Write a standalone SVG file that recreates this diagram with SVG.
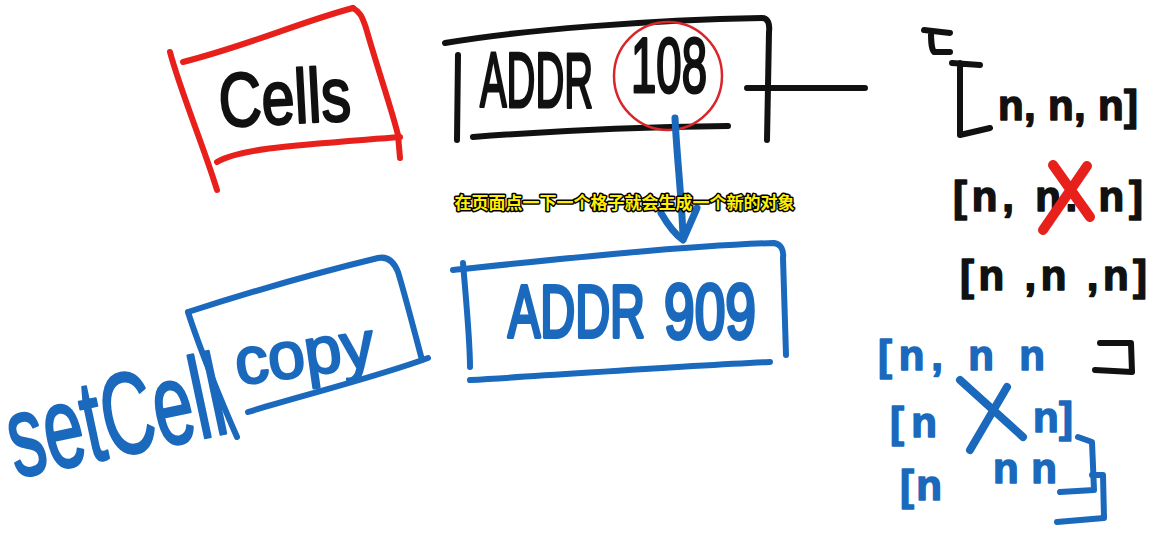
<svg xmlns="http://www.w3.org/2000/svg" width="1155" height="536" viewBox="0 0 1155 536">
<style>
.ink{fill:none;stroke-linecap:round;stroke-linejoin:round}
.r{stroke:#e8201c}
.k{stroke:#111}
.b{stroke:#1a69bd}
.hw{font-family:"Liberation Sans",Arial,sans-serif;stroke-linejoin:round;stroke-linecap:round}
.hk{fill:#111;stroke:#111}
.hb{fill:#1a69bd;stroke:#1a69bd}
.sub{font-family:"Noto Sans CJK SC",sans-serif;font-weight:bold;font-size:17px;fill:#ffef00;stroke:#000;stroke-width:3;paint-order:stroke;stroke-linejoin:round}
</style>
<rect width="1155" height="536" fill="#fff"/>

<g id="cells">
  <g class="ink r" stroke-width="6">
    <path d="M170,52 C180,90 205,150 217,190"/>
    <path d="M183,62 C250,45 300,22 353,8"/>
    <path d="M353,8 C360,12 362,16 366,28 C378,70 392,110 398,135 L400,158"/>
    <path d="M217,162 C240,148 300,145 400,137"/>
  </g>
  <text class="hw hk" x="220" y="127" font-size="76" stroke-width="2.5" textLength="132" lengthAdjust="spacingAndGlyphs" transform="rotate(-3 220 127)">Cells</text>
</g>

<g id="addr108">
  <g class="ink k" stroke-width="6">
    <path d="M445,43 C520,30 650,20 762,18 C768,18 770,24 769,32 L767,140"/>
    <path d="M458,55 L457,140"/>
    <path d="M473,137 C550,131 650,127 728,126"/>
  </g>
  <text class="hw hk" x="480" y="107" font-size="78" stroke-width="3" textLength="113" lengthAdjust="spacingAndGlyphs">ADDR</text>
  <text class="hw hk" x="631" y="92" font-size="78" stroke-width="3" textLength="76" lengthAdjust="spacingAndGlyphs">108</text>
  <ellipse cx="668" cy="76" rx="54" ry="54" fill="none" stroke="#d8262a" stroke-width="2.5"/>
</g>

<g id="addr909">
  <g class="ink b" stroke-width="6">
    <path d="M453,270 C550,260 680,246 774,243 C781,244 784,250 783,258 L786,355"/>
    <path d="M463,263 C466,300 470,340 470,367"/>
    <path d="M470,380 C560,375 680,366 770,362"/>
  </g>
  <text class="hw hb" x="508" y="337" font-size="74" stroke-width="4" textLength="137" lengthAdjust="spacingAndGlyphs">ADDR</text>
  <text class="hw hb" x="664" y="338" font-size="78" stroke-width="4" textLength="92" lengthAdjust="spacingAndGlyphs">909</text>
</g>

<g id="copy">
  <g class="ink b" stroke-width="6">
    <path d="M188,312 C250,292 320,272 378,258 C388,256 394,262 398,272 C405,295 414,330 422,360"/>
    <path d="M188,312 C200,350 225,410 237,437"/>
    <path d="M248,412 C300,396 380,376 428,358"/>
  </g>
  <text class="hw hb" x="238" y="385" font-size="66" stroke-width="2.5" textLength="140" lengthAdjust="spacingAndGlyphs" transform="rotate(-8 238 385)">copy</text>
</g>

<g id="setcell">
  <text class="hw hb" x="16" y="478" font-size="116" stroke-width="2.5" textLength="220" lengthAdjust="spacingAndGlyphs" transform="rotate(-12 16 478)">setCell</text>
</g>

<g id="list-black">
  <g class="ink k" stroke-width="6">
    <path d="M924,30 L950,33 M931,31 C931,40 931,48 934,52 L950,52"/>
    <path d="M952,63 L980,65 M960,63 L960,135 L990,128"/>
    <path d="M1100,343 L1131,343 L1132,372 L1095,370"/>
  </g>
  <text class="hw hk" x="998" y="120" font-size="42" font-weight="bold" stroke-width="1.5" textLength="140" lengthAdjust="spacing">n, n, n]</text>
  <text class="hw hk" x="953" y="211" font-size="42" font-weight="bold" stroke-width="1.5" textLength="190" lengthAdjust="spacing">[n, n. n]</text>
  <text class="hw hk" x="960" y="290" font-size="42" font-weight="bold" stroke-width="1.5" textLength="187" lengthAdjust="spacing">[n ,n ,n]</text>
  <path class="ink r" stroke-width="10" d="M1053,165 L1090,217 M1087,166 L1043,230"/>
</g>

<g id="list-blue">
  <text class="hw hb" x="878" y="370" font-size="42" font-weight="bold" stroke-width="1.5" textLength="167" lengthAdjust="spacing">[n, n n</text>
  <text class="hw hb" x="890" y="437" font-size="42" font-weight="bold" stroke-width="1.5" textLength="47" lengthAdjust="spacing">[n</text>
  <text class="hw hb" x="1033" y="432" font-size="42" font-weight="bold" stroke-width="1.5" textLength="40" lengthAdjust="spacing">n]</text>
  <text class="hw hb" x="900" y="500" font-size="42" font-weight="bold" stroke-width="1.5" textLength="42" lengthAdjust="spacing">[n</text>
  <text class="hw hb" x="993" y="483" font-size="42" font-weight="bold" stroke-width="1.5" textLength="64" lengthAdjust="spacing">n n</text>
  <g class="ink b" stroke-width="8">
    <path d="M960,380 L1023,437 M1007,387 L970,450"/>
  </g>
  <g class="ink b" stroke-width="6">
    <path d="M1078,437 L1092,442 L1094,490 L1060,492"/>
    <path d="M1092,475 L1103,475 L1104,518 L1057,522"/>
  </g>
</g>

<g id="connectors">
  <path class="ink k" stroke-width="6" d="M747,88 L865,88"/>
  <path class="ink b" stroke-width="7" d="M675,118 C677,160 682,200 683,238"/>
  <path class="ink b" stroke-width="7" d="M661,213 C668,225 676,235 683,240 L697,208"/>
</g>

<g id="subtitle">
  <text class="sub" x="624.5" y="209" text-anchor="middle">在页面点一下一个格子就会生成一个新的对象</text>
</g>
</svg>
